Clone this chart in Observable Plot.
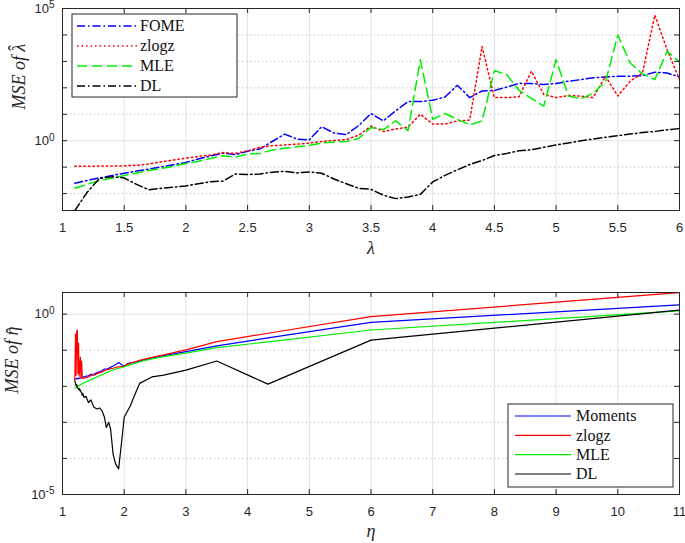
<!DOCTYPE html>
<html><head><meta charset="utf-8">
<script src="https://cdn.jsdelivr.net/npm/d3@7"></script>
<script src="https://cdn.jsdelivr.net/npm/@observablehq/plot@0.6"></script>
<style>
body{margin:0;background:#fff;width:685px;height:543px;overflow:hidden}
#chart svg{display:block}
</style></head><body><div id="chart"></div>
<script>
// ---------- Top panel data (log10 of MSE of lambda-hat) ----------
const lambda = [1.1,1.2,1.3,1.4,1.5,1.6,1.7,1.8,1.9,2.0,2.1,2.2,2.3,2.4,2.5,2.6,2.7,2.8,2.9,3.0,
  3.1,3.2,3.3,3.4,3.5,3.6,3.7,3.8,3.9,4.0,4.1,4.2,4.3,4.4,4.5,4.6,4.7,4.8,4.9,5.0,
  5.1,5.2,5.3,5.4,5.5,5.6,5.7,5.8,5.9,6.0];
const fomeLog10 = [-1.61,-1.50,-1.41,-1.32,-1.23,-1.15,-1.07,-0.99,-0.91,-0.82,
  -0.69,-0.58,-0.47,-0.53,-0.40,-0.31,-0.03,0.25,0.06,0.03,
  0.53,0.29,0.23,0.57,1.03,0.75,1.13,1.48,1.48,1.53,
  1.65,2.10,1.63,1.88,1.90,2.03,2.17,2.16,2.13,2.16,
  2.25,2.31,2.38,2.41,2.44,2.44,2.46,2.59,2.56,2.41];
const zlogzLamLog10 = [-0.97,-0.97,-0.96,-0.96,-0.95,-0.93,-0.88,-0.80,-0.73,-0.66,
  -0.60,-0.54,-0.45,-0.48,-0.38,-0.25,-0.19,-0.16,-0.13,-0.09,
  -0.03,0.01,0.04,0.21,0.55,0.35,0.44,0.52,1.00,0.63,
  0.63,0.75,0.78,3.56,1.63,1.63,1.66,2.63,1.75,1.63,
  1.71,1.69,1.63,2.44,1.69,2.25,2.56,4.75,3.44,2.31];
const mleLamLog10 = [-1.80,-1.65,-1.51,-1.42,-1.32,-1.22,-1.13,-1.05,-0.97,-0.86,
  -0.78,-0.67,-0.57,-0.63,-0.50,-0.48,-0.35,-0.29,-0.23,-0.18,
  -0.09,-0.05,-0.03,0.09,0.50,0.42,0.75,0.38,3.06,0.81,
  1.03,0.81,0.60,0.75,2.65,2.50,1.90,1.60,1.31,3.06,
  1.69,1.58,1.80,2.22,4.00,2.94,2.53,2.31,3.38,2.97];
const dlLamLog10 = [-2.64,-1.95,-1.43,-1.36,-1.41,-1.65,-1.86,-1.80,-1.76,-1.71,
  -1.63,-1.55,-1.53,-1.26,-1.28,-1.26,-1.19,-1.16,-1.22,-1.18,
  -1.23,-1.45,-1.63,-1.80,-1.84,-2.06,-2.19,-2.13,-2.03,-1.56,
  -1.31,-1.10,-0.90,-0.75,-0.56,-0.48,-0.38,-0.34,-0.25,-0.16,
  -0.09,0.00,0.06,0.13,0.19,0.25,0.31,0.35,0.41,0.46];
const lambdaTicks = [1,1.5,2,2.5,3,3.5,4,4.5,5,5.5,6];
const topDecades = [-2,-1,0,1,2,3,4,5];
const topMinorGrid = [-2,-1,1,2,3,4];
const topLabeled = [0,5];
const topSeriesNames = ["FOME","zlogz","MLE","DL"];

// ---------- Bottom panel data (log10 of MSE of eta-hat) ----------
const eta = [1.20,1.21,1.22,1.23,1.24,1.25,1.26,1.27,1.28,1.29,1.30,1.31,1.32,1.33,1.35,1.38,
  1.42,1.46,1.51,1.56,1.60,1.64,1.68,1.71,1.75,1.78,1.82,1.86,1.91,1.96,2.00,2.05,2.10,
  2.18,2.25,2.45,2.64,3.00,3.50,4.33,6.00,11.00];
const momentsLog10 = [-1.80,-1.80,-1.78,-1.79,-1.78,-1.80,-1.78,-1.77,-1.78,-1.76,-1.77,-1.76,-1.75,-1.74,-1.74,-1.72,
  -1.71,-1.67,-1.66,-1.62,-1.60,-1.57,-1.52,-1.53,-1.50,-1.47,-1.44,-1.40,-1.34,-1.40,-1.44,-1.38,-1.35,
  -1.33,-1.30,-1.22,-1.15,-1.04,-0.88,-0.66,-0.23,0.26];
const zlogzEtaLog10 = [-1.83,-0.55,-1.70,-0.48,-0.44,-1.65,-0.80,-1.72,-1.50,-1.20,-1.78,-1.30,-1.76,-1.78,-1.77,-1.76,
  -1.74,-1.70,-1.69,-1.65,-1.62,-1.60,-1.57,-1.54,-1.53,-1.51,-1.50,-1.48,-1.46,-1.45,-1.44,-1.40,-1.36,
  -1.32,-1.28,-1.20,-1.13,-0.99,-0.76,-0.53,-0.07,0.60];
const mleEtaLog10 = [-2.06,-2.05,-2.03,-2.02,-2.01,-2.00,-1.99,-1.98,-1.97,-1.96,-1.95,-1.94,-1.93,-1.92,-1.90,-1.88,
  -1.85,-1.82,-1.78,-1.74,-1.71,-1.68,-1.65,-1.62,-1.60,-1.57,-1.55,-1.52,-1.50,-1.48,-1.46,-1.43,-1.40,
  -1.36,-1.32,-1.24,-1.18,-1.08,-0.93,-0.77,-0.44,0.09];
const dlEtaLog10 = [-1.85,-1.92,-1.98,-1.95,-2.03,-2.05,-2.08,-2.06,-2.12,-2.10,-2.16,-2.17,-2.25,-2.20,-2.31,-2.28,
  -2.45,-2.38,-2.58,-2.63,-2.60,-2.68,-2.86,-3.14,-3.00,-3.19,-3.88,-4.15,-4.29,-3.51,-2.86,-2.70,-2.54,
  -2.20,-1.92,-1.74,-1.69,-1.55,-1.30,-1.94,-0.72,0.11];
const etaTicks = [1,2,3,4,5,6,7,8,9,10,11];
const bottomDecades = [-5,-4,-3,-2,-1,0];
const bottomMinorGrid = [-4,-3,-2,-1];
const bottomLabeled = [-5,0];
const bottomSeriesNames = ["Moments","zlogz","MLE","DL"];

// ---------- styles ----------
const BLUE = "#0000ff", RED = "#ff0000", GREEN = "#00ee00", BLACK = "#000000";
const AXC = "#262626";
const SERIF = "'Liberation Serif', 'DejaVu Serif', serif";
const NS = "http://www.w3.org/2000/svg";
const topStyles = [
  {stroke: BLUE, dash: "8,3,1.5,3"},
  {stroke: RED, dash: "1.5,3"},
  {stroke: GREEN, dash: "10,5"},
  {stroke: BLACK, dash: "8,3,1.5,3"}
];
const bottomStyles = [
  {stroke: BLUE, dash: null},
  {stroke: RED, dash: null},
  {stroke: GREEN, dash: null},
  {stroke: BLACK, dash: null}
];

function table(xs, logs, name) {
  return xs.map((x, i) => ({x, y: Math.pow(10, logs[i]), name}));
}

function postText(svg) {
  svg.querySelectorAll("text").forEach(t => {
    const s = t.textContent;
    const m = /^10\^(.+)$/.exec(s);
    if (m) {
      t.textContent = "10";
      const ts = document.createElementNS(NS, "tspan");
      ts.setAttribute("dy", "-0.42em");
      ts.setAttribute("font-size", "10px");
      ts.textContent = m[1];
      t.appendChild(ts);
      return;
    }
    if (s.endsWith("\u0302")) {
      const base = s.slice(0, -1);
      const last = base.slice(-1);
      t.textContent = base;
      const ts = document.createElementNS(NS, "tspan");
      ts.setAttribute("dx", "-0.40em");
      ts.setAttribute("dy", last === "\u03BB" ? "-0.22em" : "0.02em");
      ts.setAttribute("font-style", "normal");
      ts.textContent = "\u02C6";
      t.appendChild(ts);
    }
  });
}

function panel(o) {
  const W = 685, ml = 62, mr = 6;
  const fw = W - ml - mr, fh = o.height - o.mt - o.mb;
  const decVals = o.decades.map(e => Math.pow(10, e));
  const minor = o.minorGrid.map(e => Math.pow(10, e));
  const series = o.series.map((s, i) => table(o.xs, s, o.names[i]));
  const marks = [
    Plot.ruleX(o.xTicks, {x: d => d, stroke: "#e2e2e2", strokeWidth: 1}),
    Plot.ruleY(minor, {y: d => d, stroke: "#b8b8b8", strokeWidth: 1, strokeDasharray: "1.2,2.8"}),
    Plot.ruleY([1], {y: d => d, stroke: "#e2e2e2", strokeWidth: 1}),
    ...series.map((data, i) => Plot.line(data, {x: "x", y: "y", stroke: o.styles[i].stroke,
      strokeWidth: o.lw, strokeDasharray: o.styles[i].dash || undefined, clip: true})),
    Plot.frame({stroke: AXC, strokeWidth: 1}),
    Plot.tickX(o.xTicks, {x: d => d, stroke: AXC, insetTop: fh - 5}),
    Plot.tickX(o.xTicks, {x: d => d, stroke: AXC, insetBottom: fh - 5}),
    Plot.tickY(decVals, {y: d => d, stroke: AXC, insetRight: fw - 5}),
    Plot.tickY(decVals, {y: d => d, stroke: AXC, insetLeft: fw - 5}),
    Plot.text([o.xLabel], {text: d => d, frameAnchor: "bottom", dy: o.xLabelDy,
      fontFamily: SERIF, fontStyle: "italic", fontSize: 18, fill: AXC}),
    Plot.text([o.yLabel], {text: d => d, frameAnchor: "left", dx: o.yLabelDx, rotate: -90,
      fontFamily: SERIF, fontStyle: "italic", fontSize: 18, fill: AXC})
  ];
  const svg = Plot.plot({
    width: W, height: o.height,
    marginLeft: ml, marginRight: mr, marginTop: o.mt, marginBottom: o.mb,
    style: {fontFamily: "'Liberation Sans', Arial, sans-serif", fontSize: "13px", color: AXC, background: "white", overflow: "visible"},
    x: {domain: o.xDomain, ticks: o.xTicks, tickSize: 0, tickPadding: 12, tickFormat: d => String(d), label: null},
    y: {type: "log", domain: o.yDomain, ticks: decVals, tickSize: 0, tickPadding: 8, label: null,
        tickFormat: d => { const e = Math.round(Math.log10(d)); return o.labeled.includes(e) ? "10^" + e : ""; }},
    marks
  });
  postText(svg);
  const L = o.legend;
  const g = d3.select(svg).append("g").attr("text-anchor", "start");
  g.append("rect").attr("x", L.x).attr("y", L.y).attr("width", L.w).attr("height", L.h)
    .attr("fill", "white").attr("stroke", AXC).attr("stroke-width", 1);
  o.names.forEach((name, i) => {
    const y = L.rows[i];
    g.append("line").attr("x1", L.lx1).attr("x2", L.lx2).attr("y1", y).attr("y2", y)
      .attr("stroke", o.styles[i].stroke).attr("stroke-width", o.lw)
      .attr("stroke-dasharray", o.styles[i].dash || null);
    g.append("text").attr("x", L.tx).attr("y", y).attr("dy", "0.33em")
      .attr("text-anchor", "start")
      .attr("font-family", SERIF).attr("font-size", 16)
      .attr("fill", "#111").text(name);
  });
  return svg;
}

const topPanel = panel({
  height: 270, mt: 8, mb: 60,
  xs: lambda, series: [fomeLog10, zlogzLamLog10, mleLamLog10, dlLamLog10], names: topSeriesNames,
  styles: topStyles, lw: 1.5,
  xDomain: [1, 6], xTicks: lambdaTicks,
  yDomain: [Math.pow(10, -2.64), 1e5], decades: topDecades, minorGrid: topMinorGrid, labeled: topLabeled,
  xLabel: "\u03BB", xLabelDy: 43, yLabel: "MSE of \u03BB\u0302", yLabelDx: -43,
  legend: {x: 72, y: 14, w: 165, h: 83, rows: [26, 46, 66, 86], lx1: 77, lx2: 137, tx: 140}
});
const bottomPanel = panel({
  height: 273, mt: 22, mb: 49,
  xs: eta, series: [momentsLog10, zlogzEtaLog10, mleEtaLog10, dlEtaLog10], names: bottomSeriesNames,
  styles: bottomStyles, lw: 1.2,
  xDomain: [1, 11], xTicks: etaTicks,
  yDomain: [1e-5, Math.pow(10, 0.6)], decades: bottomDecades, minorGrid: bottomMinorGrid, labeled: bottomLabeled,
  xLabel: "\u03B7", xLabelDy: 42, yLabel: "MSE of \u03B7\u0302", yLabelDx: -50,
  legend: {x: 508, y: 134, w: 165, h: 83, rows: [146, 165.3, 184.6, 204], lx1: 515, lx2: 571, tx: 576}
});
document.getElementById("chart").append(topPanel, bottomPanel);
</script></body></html>
